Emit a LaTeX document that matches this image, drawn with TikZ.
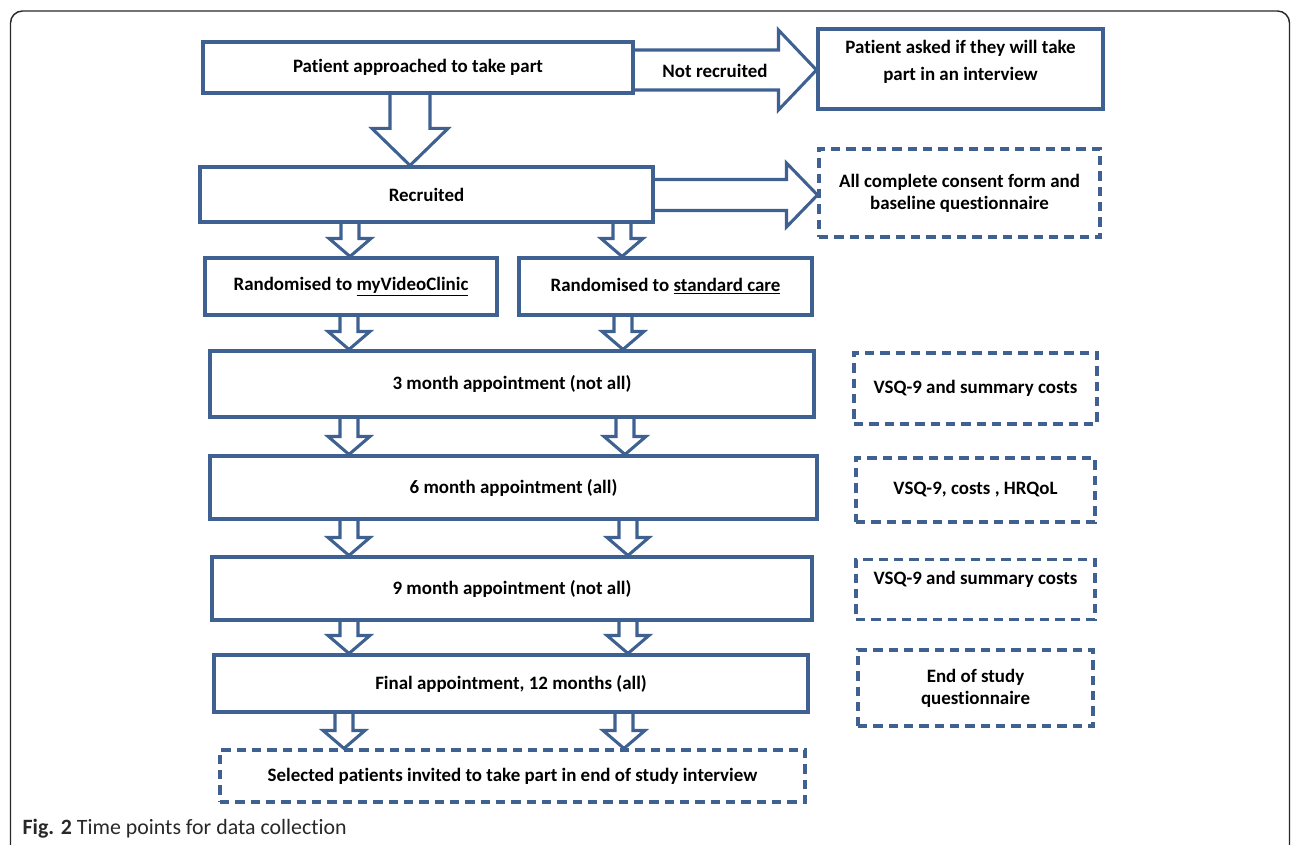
\documentclass[tikz,border=0pt]{standalone}
\usepackage{fontspec}
\setmainfont{Carlito}[Ligatures=NoCommon]
\usetikzlibrary{calc}
\definecolor{flowblue}{RGB}{62,97,146}
\definecolor{framegray}{RGB}{40,40,40}
\tikzset{
  box/.style={draw=flowblue, line width=2.3pt, fill=white, align=center,
    inner sep=0pt, font=\bfseries\fontsize{14.2}{20}\selectfont},
  dashbox/.style={box, dash pattern=on 7pt off 4.5pt},
  tight/.style={font=\bfseries\fontsize{14.2}{16.5}\selectfont},
  sz/.style 2 args={minimum width=#1*0.75pt, minimum height=#2*0.75pt},
  blockarrow/.style={draw=flowblue, line width=2.3pt, line join=miter}
}
% block arrow down: x, from, to, half shaft, half head, head length
\newcommand{\downblock}[6]{%
  \coordinate (dt) at (#1,0 |- #2.south);
  \coordinate (db) at (#1,0 |- #3.north);
  \draw[blockarrow] ($(dt)+(-#4,0)$) -- ($(db)+(-#4,-#6)$) -- ($(db)+(-#5,-#6)$)
    -- (db) -- ($(db)+(#5,-#6)$) -- ($(db)+(#4,-#6)$) -- ($(dt)+(#4,0)$);
}
% block arrow right: y, from, to, half shaft, half head, head length
\newcommand{\rightblock}[6]{%
  \coordinate (yref) at (0,#1);
  \coordinate (rl) at (#2.east |- yref);
  \coordinate (rr) at (#3.west |- yref);
  \draw[blockarrow] ($(rl)+(0,-#4)$) -- ($(rr)+(-#6,-#4)$) -- ($(rr)+(-#6,-#5)$)
    -- (rr) -- ($(rr)+(-#6,#5)$) -- ($(rr)+(-#6,#4)$) -- ($(rl)+(0,#4)$);
}
\begin{document}
\begin{tikzpicture}[x=0.75pt, y=-0.75pt]
\useasboundingbox (0,0) rectangle (1292,845);
\draw[framegray, line width=1.1pt, rounded corners=9pt] (10.5,870) -- (10.5,11) -- (1289.5,11) -- (1289.5,870);

% main column
\node[box, sz={430}{51}] (approach) at (418,67.5) {Patient approached to take part};
\node[box, sz={285}{80}, text depth=13pt] (asked) at (960.5,69) {Patient asked if they will take\\part in an interview};
\node[box, sz={453}{55}] (recruit) at (426.5,194.5) {Recruited};
\node[dashbox, tight, sz={281}{88}] (consent) at (959.5,193) {All complete consent form and\\baseline questionnaire};
\node[box, sz={292}{57}] (randvc) at (351,286.5) {Randomised to \underline{myVideoClinic}};
\node[box, sz={293}{57}] (randsc) at (665.5,286.5) {Randomised to \underline{standard care}};
\node[box, sz={604}{66}] (mthree) at (512,384) {3 month appointment (not all)};
\node[box, sz={607}{63}] (msix) at (513.5,487.5) {6 month appointment (all)};
\node[box, sz={600}{63}] (mnine) at (512,588.5) {9 month appointment (not all)};
\node[box, sz={594}{57}] (mfinal) at (511,683.5) {Final appointment, 12 months (all)};
\node[dashbox, sz={585}{52}] (select) at (512.5,776) {Selected patients invited to take part in end of study interview};

% data collected
\node[dashbox, sz={243}{71}] (qthree) at (975.5,388.5) {VSQ-9 and summary costs};
\node[dashbox, sz={239}{64}] (qsix) at (975.5,490) {VSQ-9, costs , HRQoL};
\node[dashbox, sz={239}{60}, text depth=17pt] (qnine) at (975.5,589.5) {VSQ-9 and summary costs};
\node[dashbox, tight, sz={235}{76}] (qfinal) at (975.5,688) {End of study\\questionnaire};

% arrows
\rightblock{70}{approach}{asked}{20}{40}{38}
\node[font=\bfseries\fontsize{14.2}{16}\selectfont] (notrec) at (715,71) {Not recruited};
\downblock{410}{approach}{recruit}{20}{38}{37}
\rightblock{195}{recruit}{consent}{15.5}{32}{31}
\downblock{350}{recruit}{randvc}{9}{21}{18}
\downblock{622}{recruit}{randsc}{9}{21}{18}
\downblock{349}{randvc}{mthree}{9}{21}{18}
\downblock{623}{randsc}{mthree}{9}{21}{18}
\downblock{349}{mthree}{msix}{9}{21}{18}
\downblock{625}{mthree}{msix}{9}{21}{18}
\downblock{349}{msix}{mnine}{9}{21}{18}
\downblock{628}{msix}{mnine}{9}{21}{18}
\downblock{349}{mnine}{mfinal}{9}{21}{18}
\downblock{628}{mnine}{mfinal}{9}{21}{18}
\downblock{344}{mfinal}{select}{9}{21}{18}
\downblock{624}{mfinal}{select}{9}{21}{18}

\node[anchor=west, text=framegray, font=\fontsize{16.4}{18}\selectfont] (caption) at (18,829)
  {\textbf{Fig. 2} Time points for data collection};
\end{tikzpicture}
\end{document}
